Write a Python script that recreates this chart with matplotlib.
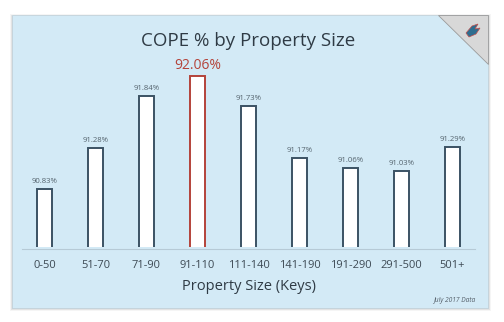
import matplotlib

matplotlib.use("Agg")
import matplotlib.pyplot as plt  # noqa: E402
from matplotlib.patches import Rectangle, Polygon  # noqa: E402

CATEGORIES = ["0-50", "51-70", "71-90", "91-110", "111-140",
              "141-190", "191-290", "291-500", "501+"]
COPE = [90.83, 91.28, 91.84, 92.06, 91.73, 91.17, 91.06, 91.03, 91.29]
HIGHLIGHT = "91-110"

TITLE = "COPE % by Property Size"
XLABEL = "Property Size (Keys)"
NOTE = "July 2017 Data"

CARD_BG = "#d3eaf6"
BAR_EDGE = "#3b5264"
HI_EDGE = "#b4433a"
TEXT = "#2f3b45"

W, H = 504, 322

plt.rcParams["font.family"] = ["Open Sans", "DejaVu Sans"]

fig = plt.figure(figsize=(W / 100, H / 100), dpi=100)
fig.patch.set_facecolor("white")


def px(x, y):
    # pixel coords (top-left origin) -> figure fraction
    return x / W, 1 - y / H


# card with soft shadow
for i, a in enumerate([0.04, 0.07, 0.11]):
    d = 3 - i
    x0, y1 = px(12 - d + 1, 15 - d + 2)
    x1, y0 = px(488 + d, 308 + d)
    fig.patches.append(Rectangle((x0, y0), x1 - x0, y1 - y0, transform=fig.transFigure,
                                 facecolor="black", alpha=a, edgecolor="none", zorder=0))
x0, y1 = px(12, 15)
x1, y0 = px(488, 308)
fig.patches.append(Rectangle((x0, y0), x1 - x0, y1 - y0, transform=fig.transFigure,
                             facecolor=CARD_BG, edgecolor="#c4d3dc", lw=0.6, zorder=1))
# grey corner fold
fig.patches.append(Polygon([px(438, 15), px(488, 15), px(488, 64)], closed=True,
                           transform=fig.transFigure, facecolor="#d8d8d8",
                           edgecolor="#9a9a9a", lw=0.6, zorder=2))
# small bird-ish logo
fig.patches.append(Polygon([px(466, 33), px(472, 26), px(478, 24), px(475, 29),
                            px(480, 28), px(476, 34), px(469, 37)], closed=True,
                           transform=fig.transFigure, facecolor="#2f6d8f",
                           edgecolor="#c0504d", lw=0.5, zorder=3))

ax = fig.add_axes([22 / W, 1 - 247 / H, 453 / W, 187 / H])
ax.set_facecolor("none")
ax.set_zorder(4)

xs = range(len(CATEGORIES))
edges = [HI_EDGE if c == HIGHLIGHT else BAR_EDGE for c in CATEGORIES]
ax.bar(xs, COPE, width=0.31, color="white", edgecolor=edges, linewidth=1.4,
       zorder=3)

for x, v, c in zip(xs, COPE, CATEGORIES):
    if c == HIGHLIGHT:
        ax.text(x, v + 0.03, f"{v:.2f}%", ha="center", va="bottom",
                fontsize=10, color=HI_EDGE)
    else:
        ax.text(x, v + 0.045, f"{v:.2f}%", ha="center", va="bottom",
                fontsize=5.6, color="#55646e")

ax.set_xlim(-0.44, 8.44)
ax.set_ylim(90.2, 92.235)
ax.axhline(90.18, color="#b6cad6", lw=0.8, zorder=2, clip_on=False)

ax.set_xticks(list(xs))
ax.set_xticklabels(CATEGORIES, fontsize=8, color="#3d4a54")
ax.tick_params(axis="x", length=0, pad=9)
ax.set_yticks([])
for s in ax.spines.values():
    s.set_visible(False)
ax.set_xlabel(XLABEL, fontsize=10.5, color=TEXT, labelpad=6)

fig.text(248 / W, 1 - 41 / H, TITLE, ha="center", va="center",
         fontsize=13.5, color=TEXT, zorder=5)
fig.text(475 / W, 1 - 301 / H, NOTE, ha="right", va="center",
         fontsize=4.8, style="italic", color="#55606a", zorder=5)

fig.savefig("out.png", dpi=100)
